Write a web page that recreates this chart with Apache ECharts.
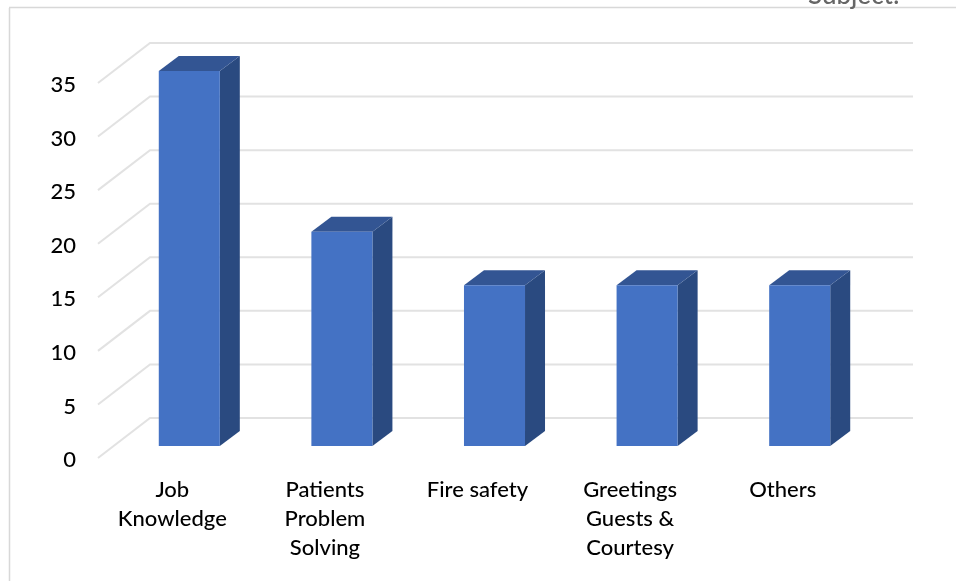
<!DOCTYPE html>
<html>
<head>
<meta charset="utf-8">
<style>html,body{margin:0;padding:0;background:#fff}#chart{width:956px;height:581px}</style>
<script src="https://cdn.jsdelivr.net/npm/echarts@6/dist/echarts.min.js"></script>
</head>
<body>
<div id="chart"></div>
<script>
// Training subjects and the value of each column
const categories = ['Job\nKnowledge', 'Patients\nProblem\nSolving', 'Fire safety', 'Greetings\nGuests &\nCourtesy', 'Others'];
const values = [35, 20, 15, 15, 15];
const yTicks = [0, 5, 10, 15, 20, 25, 30, 35];

// Pseudo-3D depth of the back wall and of the columns, in pixels
const WALL_DX = 52, WALL_DY = -40;
const BAR_SHIFT_X = 15, BAR_SHIFT_Y = -12;
const BAR_DX = 20, BAR_DY = -15;
const BAR_RATIO = 0.4;

const chart = echarts.init(document.getElementById('chart'), null, {renderer: 'canvas'});

function renderWall(params, api) {
  const v = api.value(0);
  const half = api.size([1, 0])[0] / 2;
  const left = api.coord([0, v]);
  const right = api.coord([categories.length - 1, v]);
  const x0 = left[0] - half, x1 = right[0] + half, y = left[1];
  return {
    type: 'polyline',
    shape: {points: [[x0, y], [x0 + WALL_DX, y + WALL_DY], [x1 + WALL_DX, y + WALL_DY]]},
    style: {fill: null, stroke: '#e2e2e2', lineWidth: 2}
  };
}

function renderColumn(params, api) {
  const top = api.coord([api.value(0), api.value(1)]);
  const base = api.coord([api.value(0), 0]);
  const w = api.size([1, 0])[0] * BAR_RATIO;
  const l = top[0] - w / 2 + BAR_SHIFT_X, r = l + w;
  const t = top[1] + BAR_SHIFT_Y, b = base[1] + BAR_SHIFT_Y;
  return {
    type: 'group',
    children: [
      {type: 'polygon', shape: {points: [[r, t], [r + BAR_DX, t + BAR_DY], [r + BAR_DX, b + BAR_DY], [r, b]]},
        style: {fill: '#2a4a80'}},
      {type: 'polygon', shape: {points: [[l, t], [l + BAR_DX, t + BAR_DY], [r + BAR_DX, t + BAR_DY], [r, t]]},
        style: {fill: '#335593'}},
      {type: 'rect', shape: {x: l, y: t, width: w, height: b - t}, style: {fill: '#4472c4'}}
    ]
  };
}

chart.setOption({
  animation: false,
  backgroundColor: '#fff',
  grid: {left: 98, right: 95, top: 83, bottom: 123},
  xAxis: {
    type: 'category',
    data: categories,
    axisLine: {show: false},
    axisTick: {show: false},
    axisLabel: {margin: 17, color: '#000', fontFamily: 'Lato', fontWeight: 500, fontSize: 22, lineHeight: 29, interval: 0, verticalAlign: 'top', padding: [0, 4, 0, 0]}
  },
  yAxis: {
    type: 'value',
    min: 0,
    max: 35,
    interval: 5,
    splitLine: {show: false},
    axisLine: {show: false},
    axisTick: {show: false},
    axisLabel: {
      margin: 22,
      formatter: '{n|{value}}',
      rich: {n: {color: '#000', fontFamily: 'Lato', fontWeight: 500, fontSize: 22, padding: [4, 0, 0, 0]}}
    }
  },
  series: [
    {type: 'custom', z: 1, silent: true, renderItem: renderWall, encode: {y: 0}, data: yTicks.map(v => [v])},
    {type: 'custom', z: 2, silent: true, renderItem: renderColumn, encode: {x: 0, y: 1}, data: values.map((v, i) => [i, v])}
  ],
  graphic: [
    {type: 'line', silent: true, shape: {x1: 9.5, y1: 8, x2: 9.5, y2: 581}, style: {stroke: '#d8d8d8', lineWidth: 1.5}},
    {type: 'line', silent: true, shape: {x1: 9, y1: 7.5, x2: 956, y2: 7.5}, style: {stroke: '#d8d8d8', lineWidth: 1.5}},
    {type: 'text', silent: true, x: 808, y: -17, style: {text: 'Subject:', fill: '#666', font: '500 26px Lato'}}
  ]
});
</script>
</body>
</html>
